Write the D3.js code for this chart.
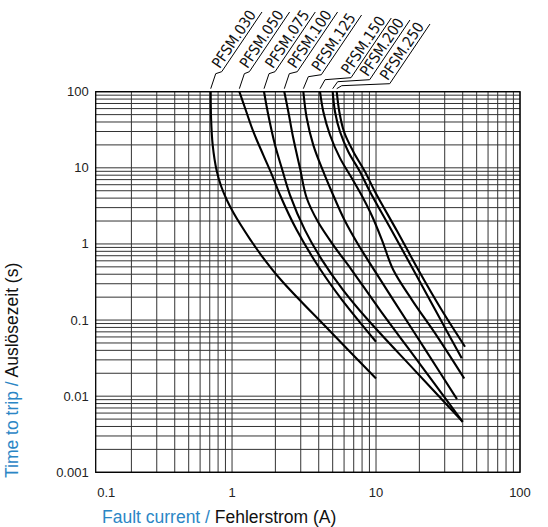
<!DOCTYPE html>
<html>
<head>
<meta charset="utf-8">
<script src="https://cdn.jsdelivr.net/npm/d3@7"></script>
<style>
  html, body { margin: 0; padding: 0; background: #fff; }
  svg { display: block; font-family: "Liberation Sans", Arial, sans-serif; }
</style>
</head>
<body>
<div id="chart"></div>
<script>
// Tripping curves, PFSM series.
// [fault current (A), time to trip (s)]
const pfsm030 = [[0.711, 100], [0.715, 45.1], [0.734, 19.9], [0.783, 9.08], [0.839, 5.77], [0.92, 3.78], [1.016, 2.63], [1.151, 1.77], [1.346, 1.125], [1.592, 0.715], [2.189, 0.336], [4.71, 0.0739], [10, 0.0171]];
const pfsm050 = [[1.124, 100], [1.231, 61.1], [1.406, 29.8], [1.649, 14.7], [1.896, 8.04], [2.154, 4.39], [2.814, 1.52], [4.13, 0.454], [5.82, 0.183], [10, 0.0519]];
const pfsm075 = [[1.668, 100], [1.786, 49.4], [1.989, 19.9], [2.214, 9.94], [2.527, 4.39], [3.21, 1.52], [4.22, 0.614], [5.91, 0.248], [8.81, 0.1], [18.5, 0.022], [40, 0.00461]];
const pfsm100 = [[2.307, 100], [2.46, 54.6], [2.664, 24.4], [2.966, 9.85], [3.3, 4.01], [3.96, 1.94], [5.11, 0.938], [6.78, 0.454], [10.66, 0.1353], [20.2, 0.0264], [40, 0.00461]];
const pfsm125 = [[3.127, 100], [3.301, 45.1], [3.669, 19.9], [4.305, 8.89], [4.925, 4.85], [6.04, 2.06], [7.55, 0.967], [8.78, 0.614], [13.2, 0.183], [22.1, 0.0403], [36.5, 0.00916]];
const pfsm150 = [[4.084, 100], [4.305, 54.6], [4.79, 27], [5.623, 13.4], [6.78, 7.34], [7.99, 4.26], [9.38, 2.33], [11.0, 1.125], [13.19, 0.454], [17.8, 0.183], [26.5, 0.0616], [41, 0.0171]];
const pfsm200 = [[5.0, 100], [5.19, 54.6], [5.623, 29.8], [6.42, 16.3], [7.74, 8.89], [9.08, 4.85], [12.9, 1.477], [18.2, 0.454], [26.5, 0.1236], [39.4, 0.0314]];
const pfsm250 = [[5.335, 100], [5.56, 54.6], [5.995, 29.8], [6.96, 16.3], [8.39, 8.89], [9.84, 4.85], [14.0, 1.477], [19.7, 0.454], [28.3, 0.1394], [41.5, 0.0446]];

const seriesNames = ['PFSM.030', 'PFSM.050', 'PFSM.075', 'PFSM.100', 'PFSM.125', 'PFSM.150', 'PFSM.200', 'PFSM.250'];
const seriesData = [pfsm030, pfsm050, pfsm075, pfsm100, pfsm125, pfsm150, pfsm200, pfsm250];

const xTicks = [0.1, 1, 10, 100];
const yTicks = [0.001, 0.01, 0.1, 1, 10, 100];
const xTickLabels = ['0.1', '1', '10', '100'];
const yTickLabels = ['0.001', '0.01', '0.1', '1', '10', '100'];

// leader layout: shelf height (px above plot top) and shelf end x offset from curve top
const labelShelf = [
  { dy: 20, dx: 11 }, { dy: 20, dx: 10 }, { dy: 20, dx: 11 }, { dy: 20, dx: 13 },
  { dy: 17, dx: 18 }, { dy: 14, dx: 31 }, { dy: 12, dx: 37 }, { dy: 8, dx: 53 }
];

const W = 548, H = 527;
const margin = { left: 95.7, right: 520, top: 91.7, bottom: 472.3 };
const blue = '#2b86c5';

const svg = d3.select('#chart').append('svg')
  .attr('width', W).attr('height', H);

const x = d3.scaleLog().domain([0.113, 100]).range([margin.left, margin.right]);
const y = d3.scaleLog().domain([0.001, 100]).range([margin.bottom, margin.top]);

// grid
const xGrid = [];
[0.1, 1, 10].forEach(d => { for (let k = 1; k <= 9; k++) xGrid.push(k * d); });
xGrid.push(100);
const yGrid = [];
[0.001, 0.01, 0.1, 1, 10].forEach(d => { for (let k = 1; k <= 9; k++) yGrid.push(k * d); });
yGrid.push(100);

const grid = svg.append('g').attr('stroke', '#333').attr('stroke-width', 1);
grid.selectAll('line.v').data(xGrid.filter(v => v >= 0.113 && v <= 100)).join('line')
  .attr('class', 'v')
  .attr('x1', d => x(d)).attr('x2', d => x(d))
  .attr('y1', margin.top).attr('y2', margin.bottom);
grid.selectAll('line.h').data(yGrid).join('line')
  .attr('class', 'h')
  .attr('y1', d => y(d)).attr('y2', d => y(d))
  .attr('x1', margin.left).attr('x2', margin.right);

svg.append('rect')
  .attr('x', margin.left).attr('y', margin.top)
  .attr('width', margin.right - margin.left).attr('height', margin.bottom - margin.top)
  .attr('fill', 'none').attr('stroke', '#000').attr('stroke-width', 1.3);

// tick labels
svg.append('g').selectAll('text').data(yTicks).join('text')
  .attr('x', margin.left - 7)
  .attr('y', d => y(d))
  .attr('dy', '0.35em')
  .attr('text-anchor', 'end')
  .attr('font-size', 13)
  .attr('fill', '#222')
  .text((d, i) => yTickLabels[i]);

svg.append('g').selectAll('text').data(xTicks).join('text')
  .attr('x', d => Math.max(x(d), margin.left + 10.5))
  .attr('y', 497)
  .attr('text-anchor', 'middle')
  .attr('font-size', 13)
  .attr('fill', '#222')
  .text((d, i) => xTickLabels[i]);

// axis titles
const xt = svg.append('text')
  .attr('x', 102).attr('y', 523)
  .attr('font-size', 17.5);
xt.append('tspan').attr('fill', blue).text('Fault current / ');
xt.append('tspan').attr('fill', '#111').text('Fehlerstrom (A)');

const yt = svg.append('text')
  .attr('transform', 'translate(18,478) rotate(-90)')
  .attr('font-size', 17.5);
yt.append('tspan').attr('fill', blue).text('Time to trip / ');
yt.append('tspan').attr('fill', '#111').text('Auslösezeit (s)');

// curves
const line = d3.line()
  .x(d => x(d[0]))
  .y(d => y(d[1]))
  .curve(d3.curveCatmullRom.alpha(0.5));

svg.append('g').selectAll('path').data(seriesData).join('path')
  .attr('d', line)
  .attr('fill', 'none')
  .attr('stroke', '#000')
  .attr('stroke-width', 2.1);

// labels with leaders
const deg = 56;
const ang = deg * Math.PI / 180;
const ux = Math.cos(ang), uy = -Math.sin(ang);
const nx = -Math.sin(ang), ny = -Math.cos(ang);
const lab = svg.append('g');
seriesData.forEach((s, i) => {
  const x0 = x(s[0][0]);
  const y0 = margin.top - 3;
  const sh = labelShelf[i];
  const sy = margin.top - sh.dy;
  const p1 = [x0 + 5, sy + 2];
  const p2 = [x0 + sh.dx, sy];
  const len = 72;
  const p3 = [p2[0] + ux * len, p2[1] + uy * len];
  lab.append('path')
    .attr('d', `M${x0},${y0}L${p1[0]},${p1[1]}L${p2[0]},${p2[1]}L${p3[0]},${p3[1]}`)
    .attr('fill', 'none').attr('stroke', '#000').attr('stroke-width', 1);
  const tx = p2[0] + ux * 1 + nx * 3;
  const ty = p2[1] + uy * 1 + ny * 3;
  lab.append('text')
    .attr('transform', `translate(${tx},${ty}) rotate(${-deg})`)
    .attr('font-family', '"Liberation Sans Narrow", "Arial Narrow", "DejaVu Sans Condensed", sans-serif')
    .attr('font-size', 15)
    .attr('fill', '#111')
    .text(seriesNames[i]);
});
</script>
</body>
</html>
